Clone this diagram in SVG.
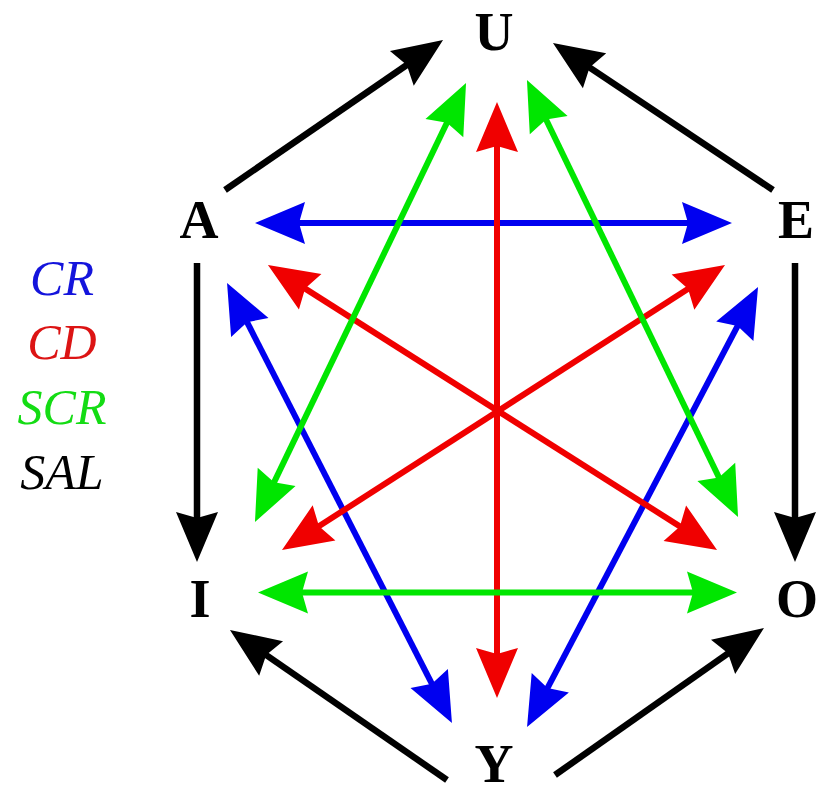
<svg xmlns="http://www.w3.org/2000/svg" width="818" height="794" viewBox="0 0 818 794">
<style>
.node{font-family:"Liberation Serif","Times New Roman",serif;font-weight:bold;font-size:54px;fill:#000;text-anchor:middle}
.leg{font-family:"Liberation Serif","Times New Roman",serif;font-style:italic;font-size:50px;text-anchor:middle}
.k{stroke:#000;stroke-width:6.5;fill:none;marker-end:url(#mk)}
.b{stroke:#0000f0;stroke-width:6;fill:none;marker-start:url(#mb);marker-end:url(#mb)}
.r{stroke:#f00000;stroke-width:6;fill:none;marker-start:url(#mr);marker-end:url(#mr)}
.g{stroke:#00e600;stroke-width:6;fill:none;marker-start:url(#mg);marker-end:url(#mg)}
</style>
<defs>
<marker id="mk" markerUnits="userSpaceOnUse" orient="auto-start-reverse" refX="40" refY="0" markerWidth="60" markerHeight="50" overflow="visible"><path d="M0,-21 L50,0 L0,21 L6,0 Z" fill="#000"/></marker>
<marker id="mb" markerUnits="userSpaceOnUse" orient="auto-start-reverse" refX="40" refY="0" markerWidth="60" markerHeight="50" overflow="visible"><path d="M0,-21 L50,0 L0,21 L6,0 Z" fill="#0000f0"/></marker>
<marker id="mr" markerUnits="userSpaceOnUse" orient="auto-start-reverse" refX="40" refY="0" markerWidth="60" markerHeight="50" overflow="visible"><path d="M0,-21 L50,0 L0,21 L6,0 Z" fill="#f00000"/></marker>
<marker id="mg" markerUnits="userSpaceOnUse" orient="auto-start-reverse" refX="40" refY="0" markerWidth="60" markerHeight="50" overflow="visible"><path d="M0,-21 L50,0 L0,21 L6,0 Z" fill="#00e600"/></marker>
</defs>
<rect width="818" height="794" fill="#fff"/>
<g id="connectors">
<path class="k" d="M225,190 L434.8,45.7"/>
<path class="k" d="M773,190 L561.3,48.6"/>
<path class="k" d="M197,263 L197,552"/>
<path class="k" d="M795,263 L795,552"/>
<path class="k" d="M447,780 L238.2,635.7"/>
<path class="k" d="M555,775 L755.8,633.8"/>
<path class="b" d="M265,223 L722,223"/>
<path class="b" d="M231.6,291.9 L447.4,714.1"/>
<path class="b" d="M753.4,295.9 L531.7,718.2"/>
<path class="r" d="M497,112 L497,688"/>
<path class="r" d="M276.4,270.4 L708.6,544.6"/>
<path class="r" d="M716.6,270.4 L290.4,544.6"/>
<path class="g" d="M268,592.5 L727,592.5"/>
<path class="g" d="M461.7,92 L259.3,513"/>
<path class="g" d="M531.3,89 L733.7,508"/>
</g>
<g id="U"><text class="node" x="494" y="50">U</text></g>
<g id="A"><text class="node" x="199" y="238">A</text></g>
<g id="E"><text class="node" x="796" y="238">E</text></g>
<g id="I"><text class="node" x="200" y="617">I</text></g>
<g id="O"><text class="node" x="797" y="617">O</text></g>
<g id="Y"><text class="node" x="494" y="782">Y</text></g>
<g id="legend">
<text class="leg" x="62" y="295" fill="#1414dc">CR</text>
<text class="leg" x="62" y="359" fill="#dc1414">CD</text>
<text class="leg" x="62" y="424" fill="#14dc14">SCR</text>
<text class="leg" x="62" y="489" fill="#000">SAL</text>
</g>
</svg>
